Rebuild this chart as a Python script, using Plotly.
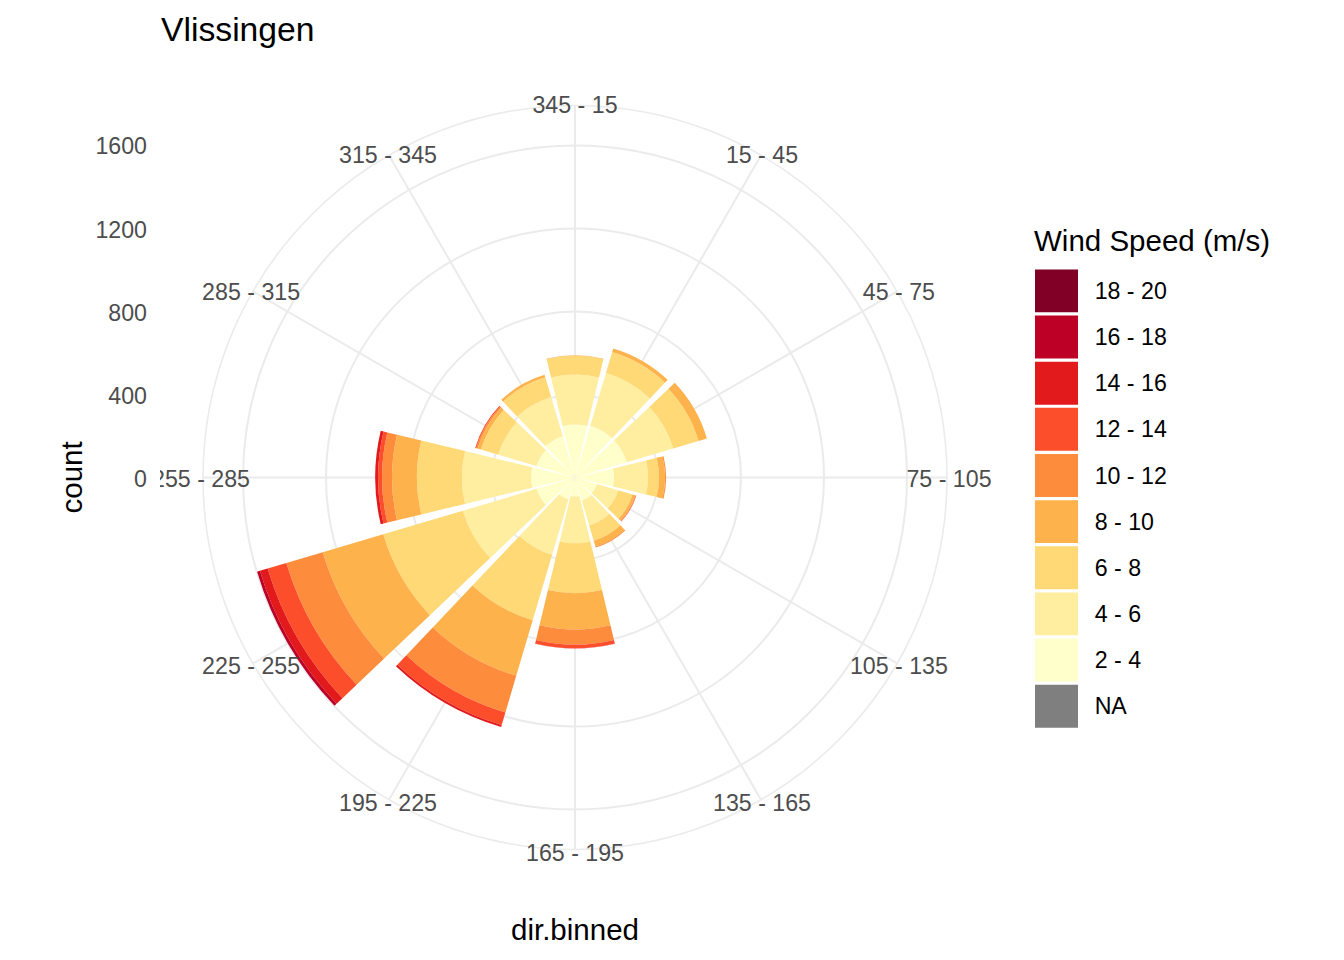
import plotly.graph_objects as go

# the page places the figure 8px in from the window's corner
OFFSET = 8
W, H = 1328, 960
PAPER_H = 944  # drawing area plotly leaves inside the figure height
FONT = "Liberation Sans"


def fx(px):
    return (px - OFFSET) / W


def fy(px):
    return 1 - (px - OFFSET) / PAPER_H


directions = ["345 - 15", "15 - 45", "45 - 75", "75 - 105", "105 - 135", "135 - 165",
              "165 - 195", "195 - 225", "225 - 255", "255 - 285", "285 - 315", "315 - 345"]
theta_deg = [0, 30, 60, 90, 120, 150, 180, 210, 240, 270, 300, 330]

speed_labels = ["NA", "2 - 4", "4 - 6", "6 - 8", "8 - 10", "10 - 12", "12 - 14", "14 - 16", "16 - 18", "18 - 20"]
speed_colors = ["#7F7F7F", "#FFFFCC", "#FFEDA0", "#FED976", "#FEB24C", "#FD8D3C", "#FC4E2A", "#E31A1C", "#BD0026", "#800026"]

count_na    = [5, 0, 0, 0, 0, 0, 0, 3, 0, 0, 0, 0]
count_2_4   = [250, 260, 260, 188, 111, 116, 92, 108, 193, 212, 193, 207]
count_4_6   = [241, 265, 234, 164, 106, 125, 225, 277, 371, 333, 193, 198]
count_6_8   = [90, 106, 127, 53, 72, 77, 241, 330, 400, 217, 87, 99]
count_8_10  = [3, 18, 42, 29, 13, 29, 175, 278, 304, 120, 17, 12]
count_10_12 = [0, 0, 0, 5, 4, 5, 72, 185, 183, 48, 7, 0]
count_12_14 = [0, 0, 0, 0, 2, 0, 18, 63, 94, 19, 5, 0]
count_14_16 = [0, 0, 0, 0, 0, 0, 1, 10, 39, 14, 0, 0]
count_16_18 = [0, 0, 0, 0, 0, 0, 0, 0, 14, 0, 0, 0]
count_18_20 = [0, 0, 0, 0, 0, 0, 0, 0, 0, 0, 0, 0]
stacks = [count_na, count_2_4, count_4_6, count_6_8, count_8_10, count_10_12,
          count_12_14, count_14_16, count_16_18, count_18_20]

count_ticks = [0, 400, 800, 1200, 1600]
radial_max = 1793
GRID = "#EBEBEB"
TICK = "#4D4D4D"

fig = go.Figure()

for label, color, values in zip(speed_labels, speed_colors, stacks):
    fig.add_trace(go.Barpolar(
        r=values, theta=theta_deg, width=[27] * len(theta_deg), name=label,
        marker=dict(color=color, line=dict(width=0)), showlegend=False, subplot="polar"))

# direction labels sit on the outer ring (own transparent polar frame)
fig.add_trace(go.Scatterpolar(
    r=[radial_max] * len(theta_deg), theta=theta_deg, text=directions, mode="text",
    textposition="middle center", textfont=dict(family=FONT, size=23.2, color=TICK),
    showlegend=False, hoverinfo="skip", subplot="polar2", cliponaxis=False))

# count axis to the left of the circle
fig.add_trace(go.Scatter(
    x=[0] * len(count_ticks), y=count_ticks, mode="markers", marker=dict(opacity=0),
    showlegend=False, hoverinfo="skip", xaxis="x", yaxis="y"))

# legend key
fig.add_trace(go.Bar(
    x=[1] * len(speed_labels), y=speed_labels, orientation="h",
    marker=dict(color=speed_colors, line=dict(width=0)),
    showlegend=False, hoverinfo="skip", xaxis="x2", yaxis="y2"))

fig.update_layout(
    width=W, height=H, autosize=False,
    margin=dict(l=0, r=0, t=0, b=0),
    paper_bgcolor="white", plot_bgcolor="rgba(0,0,0,0)",
    font=dict(family=FONT, color="black"),
    showlegend=False,
    bargap=0.07,
    title=dict(text="Vlissingen", x=fx(161), xanchor="left", xref="paper",
               y=1 - 21 / H, yanchor="middle", yref="container",
               font=dict(family=FONT, size=33.7, color="black")),
    polar=dict(
        domain=dict(x=[fx(203), fx(947)], y=[fy(848), fy(104)]),
        barmode="stack",
        bgcolor="rgba(0,0,0,0)",
        radialaxis=dict(range=[0, radial_max], tickvals=count_ticks, showticklabels=False,
                        ticks="", showline=False, gridcolor=GRID, gridwidth=1.6, angle=90),
        angularaxis=dict(rotation=90, direction="clockwise", tickmode="array",
                         tickvals=theta_deg, showticklabels=False, ticks="",
                         gridcolor=GRID, gridwidth=1.6, linecolor=GRID, linewidth=1.6, showline=True),
    ),
    polar2=dict(
        domain=dict(x=[fx(201), fx(949)], y=[fy(853.5), fy(105.5)]),
        bgcolor="rgba(0,0,0,0)",
        radialaxis=dict(range=[0, radial_max], visible=False),
        angularaxis=dict(rotation=90, direction="clockwise", visible=False),
    ),
    xaxis=dict(domain=[fx(148), fx(156)], visible=False, anchor="y", fixedrange=True),
    yaxis=dict(domain=[fy(477), fy(106)], range=[0, radial_max], tickvals=count_ticks,
               ticktext=[str(v) for v in count_ticks], showgrid=False, zeroline=False,
               showline=False, ticks="", ticklen=0, anchor="x", side="left", fixedrange=True,
               tickfont=dict(family=FONT, size=23.2, color=TICK)),
    xaxis2=dict(domain=[fx(1035), fx(1078)], range=[0, 1], visible=False, anchor="y2", fixedrange=True),
    yaxis2=dict(domain=[fy(727), fy(267)], type="category", categoryorder="array",
                categoryarray=speed_labels, side="right", anchor="x2", showgrid=False,
                zeroline=False, showline=False, ticks="outside", ticklen=11, tickcolor="rgba(0,0,0,0)",
                fixedrange=True, tickfont=dict(family=FONT, size=23.2, color="black")),
    annotations=[
        dict(text="count", x=fx(71), y=fy(476), xref="paper", yref="paper", textangle=-90,
             showarrow=False, xanchor="center", yanchor="middle", font=dict(family=FONT, size=29.5)),
        dict(text="dir.binned", x=fx(575), y=fy(927), xref="paper", yref="paper",
             showarrow=False, xanchor="center", yanchor="middle", font=dict(family=FONT, size=29.5)),
        dict(text="Wind Speed (m/s)", x=fx(1032), y=fy(240), xref="paper", yref="paper",
             showarrow=False, xanchor="left", yanchor="middle", font=dict(family=FONT, size=29.5)),
    ],
    shapes=[
        # the reference's panel edge cuts off the first digit of the west label
        dict(type="rect", xref="paper", yref="paper", x0=fx(148), x1=fx(160),
             y0=fy(492), y1=fy(464), fillcolor="white", line=dict(width=0), layer="above"),
    ],
)

fig.write_html("out.html")
